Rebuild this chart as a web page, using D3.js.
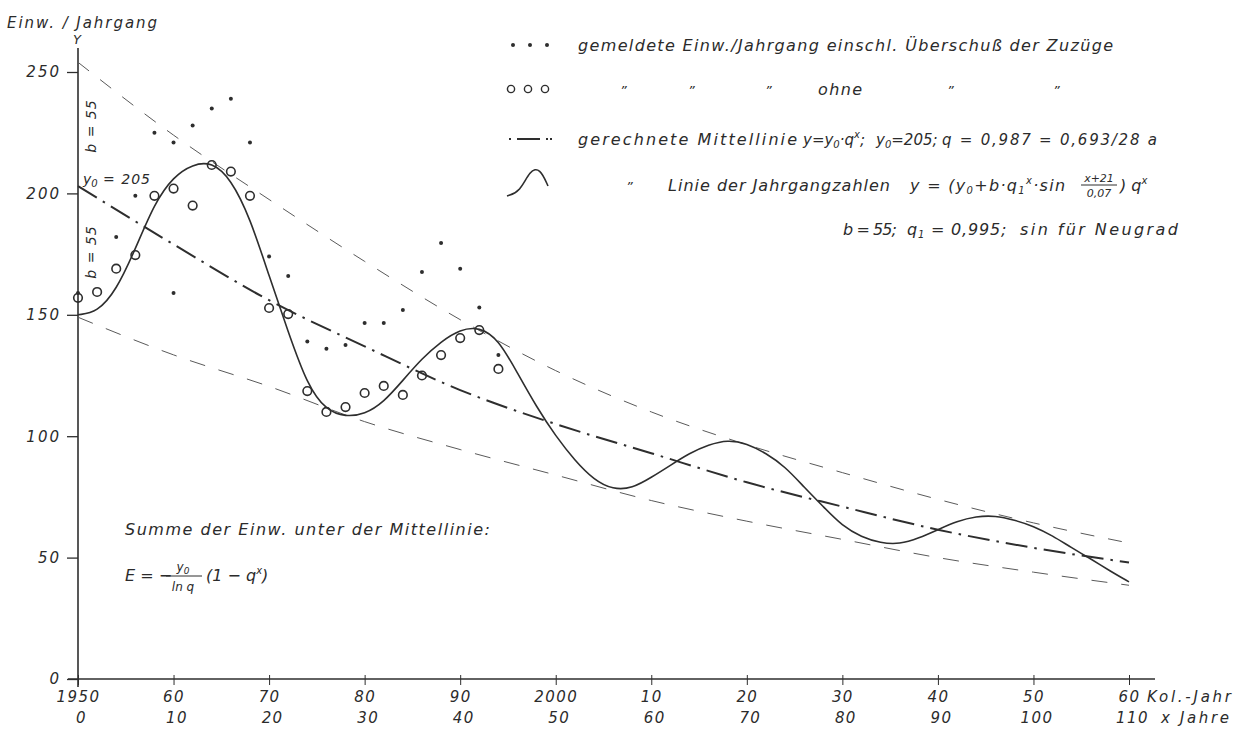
<!DOCTYPE html>
<html>
<head>
<meta charset="utf-8">
<script src="https://cdn.jsdelivr.net/npm/d3@7"></script>
<style>
  body { margin: 0; background: #fff; }
  svg { display: block; }
  text { font-family: "DejaVu Sans", sans-serif; font-style: italic; fill: #2b2b2b; }
</style>
</head>
<body>
<div id="chart"></div>
<script>
// Data (x = Jahre seit 1950, values = Einw./Jahrgang)
const tickYears = [0, 10, 20, 30, 40, 50, 60, 70, 80, 90, 100, 110];
const calendarLabels = ["1950", "60", "70", "80", "90", "2000", "10", "20", "30", "40", "50", "60"];
const ageLabels = ["0", "10", "20", "30", "40", "50", "60", "70", "80", "90", "100", "110"];
const yTicks = [0, 50, 100, 150, 200, 250];

// gemeldete Einw./Jahrgang einschl. Ueberschuss der Zuzuege (dots)
const dotYears = [0, 4, 6, 8, 10, 10, 12, 14, 16, 18, 20, 22, 24, 26, 28, 30, 32, 34, 36, 38, 40, 42, 44];
const dotValues = [159, 182, 199, 225, 221, 159, 228, 235, 239, 221, 174, 166, 139, 136, 137.6, 146.6, 146.6, 152, 167.6, 179.6, 169, 153, 133.4];

// ohne Zuzuege (circles)
const circleYears = [0, 2, 4, 6, 8, 10, 12, 14, 16, 18, 20, 22, 24, 26, 28, 30, 32, 34, 36, 38, 40, 42, 44];
const circleValues = [157, 159.4, 169, 174.6, 199, 202, 195, 211.7, 209, 199, 152.8, 150.3, 118.6, 110, 112, 117.8, 120.7, 117, 125, 133.4, 140.4, 143.7, 127.7];

// gerechnete Mittellinie and the two envelopes (read every 10 years)
const lineYears = [0, 10, 20, 30, 40, 50, 60, 70, 80, 90, 100, 110];
const meanValues = [203, 179, 156, 137, 119, 105, 93, 81, 71, 61.5, 54, 48];
const upperValues = [254, 224, 197.5, 172, 148, 127, 110, 96.5, 85, 74, 64.3, 56];
const lowerValues = [149, 133.5, 120.5, 106, 94.5, 84, 73.5, 65, 57.5, 50, 44, 38.6];

// Linie der Jahrgangzahlen (read every 2 years)
const curveYears = [0, 2, 4, 6, 8, 10, 12, 14, 16, 18, 20, 22, 24, 26, 28, 30, 32, 34, 36, 38,
  40, 42, 44, 46, 48, 50, 52, 54, 56, 58, 60, 62, 64, 66, 68, 70, 72, 74, 76, 78,
  80, 82, 84, 86, 88, 90, 92, 94, 96, 98, 100, 102, 104, 106, 108, 110];
const curveValues = [150, 151, 160, 177, 196, 207, 212, 213, 206, 190, 166, 143, 121, 110.5, 108, 109, 114, 123, 132, 139,
  144, 145, 140, 126, 112, 100, 90, 82, 78, 78.5, 83, 88, 93, 96.5, 98.5, 97, 93, 87.5, 79, 71,
  63, 58.5, 56, 55.5, 58, 61.5, 65, 67, 67.3, 65.5, 63, 59, 54, 49.5, 44.5, 40];

const width = 1247, height = 729;
const ink = "#2e2e2e";
const fs = "16px";

const svg = d3.select("#chart").append("svg")
  .attr("width", width)
  .attr("height", height);

const x = d3.scaleLinear().domain([0, 110]).range([78, 1129]);
const y = d3.scaleLinear().domain([0, 250]).range([679, 72]);

const pairs = (xs, vs) => xs.map((d, i) => [d, vs[i]]);

// text helper: fixed start and width like the hand lettering
function label(g, px, py, str, len, size) {
  const t = g.append("text").attr("x", px).attr("y", py)
    .style("font-size", size || fs).text(str);
  if (len) t.attr("textLength", len).attr("lengthAdjust", "spacing");
  return t;
}

// Axes
const xAxis = svg.append("g")
  .attr("transform", `translate(0, ${y(0)})`)
  .call(d3.axisBottom(x).tickValues(tickYears).tickSize(6).tickPadding(8)
    .tickFormat((d, i) => calendarLabels[i]));
xAxis.select(".domain").remove();
xAxis.selectAll(".tick line").attr("stroke", ink).attr("y1", -4);
xAxis.selectAll(".tick text")
  .attr("y", 23).attr("dy", 0)
  .style("font-size", "15px").style("letter-spacing", "1.4px").attr("fill", ink);
xAxis.selectAll(".tick").append("text")
  .attr("y", 44).attr("x", 3)
  .attr("text-anchor", "middle")
  .style("font-size", "15px").style("letter-spacing", "1.4px")
  .text((d, i) => ageLabels[i]);

svg.append("line")
  .attr("x1", x(0) - 10).attr("x2", x(110) + 26)
  .attr("y1", y(0)).attr("y2", y(0))
  .attr("stroke", ink).attr("stroke-width", 1.6);

label(svg, x(110) + 18, y(0) + 23, "Kol.-Jahr", 84, "15px");
label(svg, x(110) + 32, y(0) + 44, "x Jahre", 68, "15px");

const yAxis = svg.append("g")
  .attr("transform", `translate(${x(0)}, 0)`)
  .call(d3.axisLeft(y).tickValues(yTicks).tickSize(11).tickPadding(6));
yAxis.select(".domain").remove();
yAxis.selectAll(".tick line").attr("stroke", ink).attr("stroke-width", 1.3);
yAxis.selectAll(".tick text").style("font-size", "15px").style("letter-spacing", "2px").attr("fill", ink);

svg.append("line")
  .attr("x1", x(0)).attr("x2", x(0))
  .attr("y1", y(0) + 8).attr("y2", y(250) - 24)
  .attr("stroke", ink).attr("stroke-width", 1.6);

label(svg, 7, 28, "Einw. / Jahrgang", 150, "15px");
label(svg, x(0) - 5, 44, "Y", null, "13px");

// Lines
const line = d3.line()
  .x(d => x(d[0]))
  .y(d => y(d[1]))
  .curve(d3.curveMonotoneX);

svg.append("path")
  .datum(pairs(lineYears, upperValues))
  .attr("d", line)
  .attr("fill", "none").attr("stroke", "#5a5a5a").attr("stroke-width", 1)
  .attr("stroke-dasharray", "14,14");

svg.append("path")
  .datum(pairs(lineYears, lowerValues))
  .attr("d", line)
  .attr("fill", "none").attr("stroke", "#5a5a5a").attr("stroke-width", 1)
  .attr("stroke-dasharray", "16,14");

svg.append("path")
  .datum(pairs(lineYears, meanValues))
  .attr("d", line)
  .attr("fill", "none").attr("stroke", ink).attr("stroke-width", 2)
  .attr("stroke-dasharray", "22,7,2.5,7");

svg.append("path")
  .datum(pairs(curveYears, curveValues))
  .attr("d", d3.line().x(d => x(d[0])).y(d => y(d[1])).curve(d3.curveBasis))
  .attr("fill", "none").attr("stroke", ink).attr("stroke-width", 1.6);

// Points
svg.append("g").selectAll("circle")
  .data(pairs(dotYears, dotValues))
  .join("circle")
  .attr("cx", d => x(d[0])).attr("cy", d => y(d[1]))
  .attr("r", 2).attr("fill", ink);

svg.append("g").selectAll("circle")
  .data(pairs(circleYears, circleValues))
  .join("circle")
  .attr("cx", d => x(d[0])).attr("cy", d => y(d[1]))
  .attr("r", 4.3).attr("fill", "none")
  .attr("stroke", ink).attr("stroke-width", 1.6);

// Annotations on the y axis
svg.append("text").attr("x", 83).attr("y", 184).style("font-size", "14px")
  .call(t => t.append("tspan").text("y"))
  .call(t => t.append("tspan").attr("dy", 3).style("font-size", "10px").text("0"))
  .call(t => t.append("tspan").attr("dy", -3).style("letter-spacing", "1px").text(" = 205"));
svg.append("text").attr("transform", "translate(96, 126) rotate(-90)")
  .attr("text-anchor", "middle").style("font-size", "14px").style("letter-spacing", "1px").text("b = 55");
svg.append("text").attr("transform", "translate(96, 252) rotate(-90)")
  .attr("text-anchor", "middle").style("font-size", "14px").style("letter-spacing", "1px").text("b = 55");

// Legend
const legend = svg.append("g");
const lx = 578;
const rows = [45, 89, 139, 185, 229];

legend.selectAll(".ldot").data([513, 530, 547]).join("circle")
  .attr("cx", d => d).attr("cy", rows[0]).attr("r", 2).attr("fill", ink);
legend.selectAll(".lcirc").data([511, 528, 545]).join("circle")
  .attr("cx", d => d).attr("cy", rows[1]).attr("r", 3.6)
  .attr("fill", "none").attr("stroke", ink).attr("stroke-width", 1.4);
legend.append("line").attr("x1", 509).attr("x2", 552).attr("y1", rows[2]).attr("y2", rows[2])
  .attr("stroke", ink).attr("stroke-width", 2).attr("stroke-dasharray", "2,6,23,6,2");
legend.append("path")
  .attr("d", d3.line().curve(d3.curveBasis)([[507, 196], [520, 192], [530, 170], [540, 168], [548, 186]]))
  .attr("fill", "none").attr("stroke", ink).attr("stroke-width", 1.6);

label(legend, lx, rows[0] + 6, "gemeldete Einw./Jahrgang einschl. Überschuß der Zuzüge", 535);

legend.selectAll(".ditto").data([620, 688, 765, 947, 1053]).join("text")
  .attr("x", d => d).attr("y", rows[1] + 6).style("font-size", "13px").text("\u201D");
label(legend, 818, rows[1] + 6, "ohne", 44);

label(legend, lx, rows[2] + 6, "gerechnete Mittellinie", 219);
legend.append("text").attr("x", 803).attr("y", rows[2] + 6).style("font-size", "15px")
  .call(t => t.append("tspan").text("y=y"))
  .call(t => t.append("tspan").attr("dy", 3).style("font-size", "10px").text("0"))
  .call(t => t.append("tspan").attr("dy", -3).text("·q"))
  .call(t => t.append("tspan").attr("dy", -7).style("font-size", "10px").text("x"))
  .call(t => t.append("tspan").attr("dy", 7).text(";"));
legend.append("text").attr("x", 876).attr("y", rows[2] + 6).style("font-size", "15px")
  .call(t => t.append("tspan").text("y"))
  .call(t => t.append("tspan").attr("dy", 3).style("font-size", "10px").text("0"))
  .call(t => t.append("tspan").attr("dy", -3).text("=205;"));
label(legend, 942, rows[2] + 6, "q = 0,987 = 0,693/28 a", 215, "15px");

legend.append("text").attr("x", 626).attr("y", rows[3] + 6).style("font-size", "13px").text("\u201D");
label(legend, 668, rows[3] + 6, "Linie der Jahrgangzahlen", 222);
legend.append("text").attr("x", 910).attr("y", rows[3] + 6).style("font-size", fs)
  .style("letter-spacing", "1.3px")
  .call(t => t.append("tspan").text("y = (y"))
  .call(t => t.append("tspan").attr("dy", 3).style("font-size", "10px").text("0"))
  .call(t => t.append("tspan").attr("dy", -3).text("+b·q"))
  .call(t => t.append("tspan").attr("dy", 3).style("font-size", "10px").text("1"))
  .call(t => t.append("tspan").attr("dy", -10).style("font-size", "10px").text("x"))
  .call(t => t.append("tspan").attr("dy", 7).text("·sin"));
const fracX = 1099;
legend.append("text").attr("x", fracX).attr("y", rows[3] - 3).attr("text-anchor", "middle")
  .style("font-size", "11px").text("x+21");
legend.append("line").attr("x1", fracX - 18).attr("x2", fracX + 18)
  .attr("y1", rows[3]).attr("y2", rows[3]).attr("stroke", ink).attr("stroke-width", 1);
legend.append("text").attr("x", fracX).attr("y", rows[3] + 12).attr("text-anchor", "middle")
  .style("font-size", "11px").text("0,07");
legend.append("text").attr("x", fracX + 21).attr("y", rows[3] + 6).style("font-size", fs)
  .call(t => t.append("tspan").text(") q"))
  .call(t => t.append("tspan").attr("dy", -7).style("font-size", "10px").text("x"));

label(legend, 843, rows[4] + 6, "b = 55;", 54);
legend.append("text").attr("x", 907).attr("y", rows[4] + 6).style("font-size", fs)
  .style("letter-spacing", "0.8px")
  .call(t => t.append("tspan").text("q"))
  .call(t => t.append("tspan").attr("dy", 3).style("font-size", "10px").text("1"))
  .call(t => t.append("tspan").attr("dy", -3).text(" = 0,995;"));
label(legend, 1020, rows[4] + 6, "sin für Neugrad", 158);

// Sum formula
label(svg, 125, 535, "Summe der Einw. unter der Mittellinie:", 365);
svg.append("text").attr("x", 125).attr("y", 581).style("font-size", fs).text("E = −");
svg.append("text").attr("x", 183).attr("y", 571).attr("text-anchor", "middle").style("font-size", "12px")
  .call(t => t.append("tspan").text("y"))
  .call(t => t.append("tspan").attr("dy", 3).style("font-size", "9px").text("0"));
svg.append("line").attr("x1", 166).attr("x2", 202).attr("y1", 576).attr("y2", 576)
  .attr("stroke", ink).attr("stroke-width", 1);
svg.append("text").attr("x", 183).attr("y", 591).attr("text-anchor", "middle").style("font-size", "12px").text("ln q");
svg.append("text").attr("x", 206).attr("y", 581).style("font-size", fs)
  .call(t => t.append("tspan").text("(1 − q"))
  .call(t => t.append("tspan").attr("dy", -7).style("font-size", "10px").text("x"))
  .call(t => t.append("tspan").attr("dy", 7).text(")"));
</script>
</body>
</html>
